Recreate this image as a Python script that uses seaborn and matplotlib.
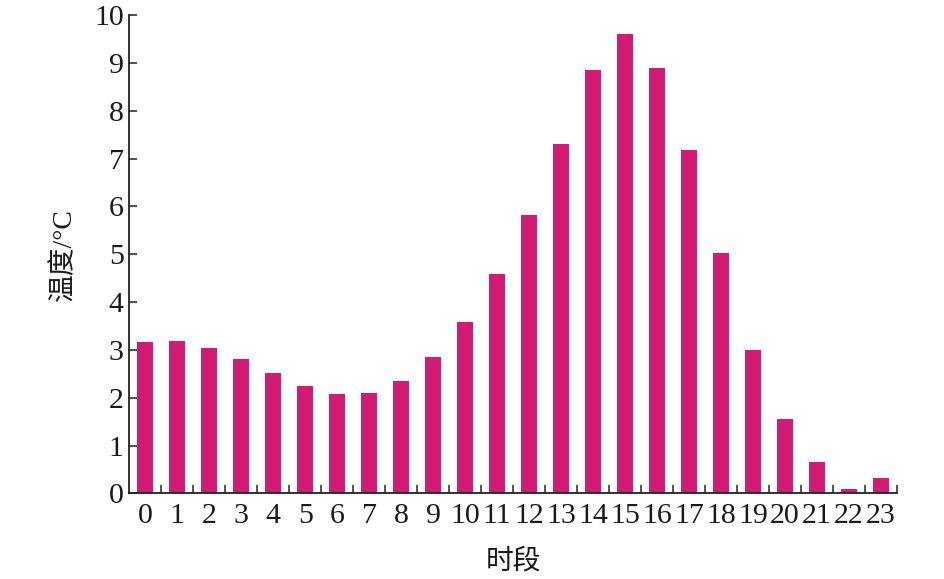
import pandas as pd
import numpy as np
import seaborn as sns
import matplotlib.pyplot as plt
from matplotlib.ticker import FixedLocator

# hourly temperature values
hours = [str(h) for h in range(24)]
temps = [3.17, 3.19, 3.05, 2.80, 2.52, 2.24, 2.08, 2.09, 2.35, 2.85,
         3.58, 4.58, 5.82, 7.30, 8.85, 9.60, 8.90, 7.18, 5.02, 3.00,
         1.55, 0.65, 0.08, 0.33]
y_ticks = list(range(0, 11))

bar_color = '#CF1C74'


def main():
    sns.set_style('ticks')
    plt.rcParams['font.family'] = ['Liberation Serif', 'Noto Sans CJK SC', 'DejaVu Sans']

    df = pd.DataFrame({'时段': hours, '温度': temps})

    fig = plt.figure(figsize=(9.45, 5.79), dpi=100)
    ax = fig.add_axes([0.1368, 0.148, 0.8122, 0.8256])

    sns.barplot(x='时段', y='温度', data=df, order=hours, color=bar_color,
                saturation=1, width=0.5, linewidth=0, ax=ax)

    ax.set_xlim(-0.5, len(hours) - 0.5)
    ax.set_ylim(0, 10)
    ax.set_yticks(y_ticks)
    ax.set_yticklabels([str(t) for t in y_ticks])

    # tick marks between bars, labels under bars
    ax.xaxis.set_minor_locator(FixedLocator(np.arange(0.5, len(hours), 1.0)))
    ax.tick_params(axis='x', which='major', length=0, pad=7, labelsize=21.5, colors='#1a1a1a')
    ax.tick_params(axis='x', which='minor', direction='in', length=6, width=1.2, color='#333333')
    ax.tick_params(axis='y', which='major', direction='in', length=6, width=1.2,
                   pad=4, labelsize=21.5, colors='#1a1a1a')
    ax.tick_params(axis='y', which='major', color='#333333')

    for s in ['top', 'right']:
        ax.spines[s].set_visible(False)
    for s in ['left', 'bottom']:
        ax.spines[s].set_linewidth(1.3)
        ax.spines[s].set_color('#222222')

    ax.set_xlabel('时段', fontsize=20, labelpad=14, color='#1a1a1a')
    ax.set_ylabel('温度/°C', fontsize=20, labelpad=12, color='#1a1a1a')

    fig.savefig('out.png', dpi=100)


if __name__ == "__main__":
    main()
